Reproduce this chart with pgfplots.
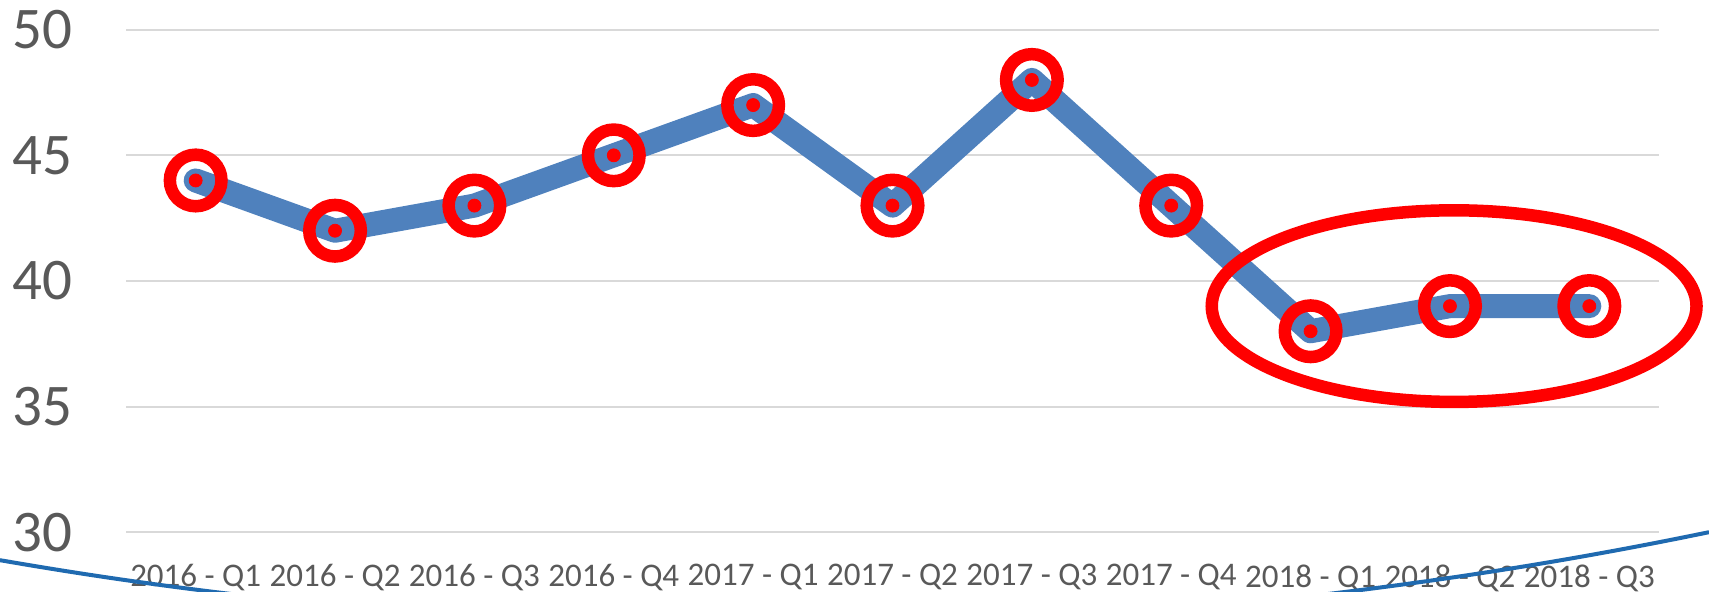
\documentclass[border=0pt]{standalone}
\usepackage{fontspec}
\setmainfont{Carlito}
\usepackage{pgfplots}
\pgfplotsset{compat=1.18}
\definecolor{linblue}{HTML}{4F81BD}
\definecolor{tickgray}{HTML}{595959}
\definecolor{gridgray}{HTML}{D9D9D9}
\definecolor{arcblue}{HTML}{1F6AB0}
\begin{document}
\begin{tikzpicture}
\begin{axis}[
  at={(63pt,29.85pt)}, anchor=south west,
  scale only axis, width=766.5pt, height=251.3pt,
  xmin=-0.5, xmax=10.5, ymin=30, ymax=50,
  ytick={30,35,40,45,50},
  xtick={0,...,10},
  xticklabels={2016 - Q1, 2016 - Q2, 2016 - Q3, 2016 - Q4, 2017 - Q1, 2017 - Q2, 2017 - Q3, 2017 - Q4, 2018 - Q1, 2018 - Q2, 2018 - Q3},
  axis line style={draw=none},
  major tick length=0pt,
  tick style={draw=none},
  ymajorgrids, major grid style={gridgray, line width=1pt},
  tick label style={text=tickgray},
  yticklabel style={font=\fontsize{29.5}{31}\selectfont, anchor=east, inner sep=0pt, xshift=-26.5pt},
  xticklabel style={font=\fontsize{16.5}{18}\selectfont, anchor=north, inner sep=0pt, yshift=-15.9pt},
  /pgf/number format/assume math mode=true,
  clip=false,
]
\addplot[linblue, line width=12pt, line cap=round, line join=round, mark=none] coordinates {
(0,44) (1,42) (2,43) (3,45) (4,47) (5,43) (6,48) (7,43) (8,38) (9,39) (10,39)};
\addplot[red, only marks, mark=o, mark size=12.9pt, mark options={draw=red, line width=6.25pt}] coordinates {
(0,44) (1,42) (2,43) (3,45) (4,47) (5,43) (6,48) (7,43) (8,38) (9,39) (10,39)};
\addplot[red, only marks, mark=*, mark size=3.25pt, mark options={fill=red, draw=none}] coordinates {
(0,44) (1,42) (2,43) (3,45) (4,47) (5,43) (6,48) (7,43) (8,38) (9,39) (10,39)};
\draw[red, line width=6.25pt] (axis cs:9.03,39) ellipse [x radius=121.2pt, y radius=47.9pt];
\end{axis}
\begin{scope}
\clip (0,0) rectangle (854.5pt,296pt);
\draw[arcblue, line width=2pt] (0pt,15.9pt) parabola bend (390pt,-17.5pt) (854.5pt,29.9pt);
\end{scope}
\pgfresetboundingbox
\path[use as bounding box] (0,0) rectangle (854.5pt,296pt);
\end{tikzpicture}
\end{document}
